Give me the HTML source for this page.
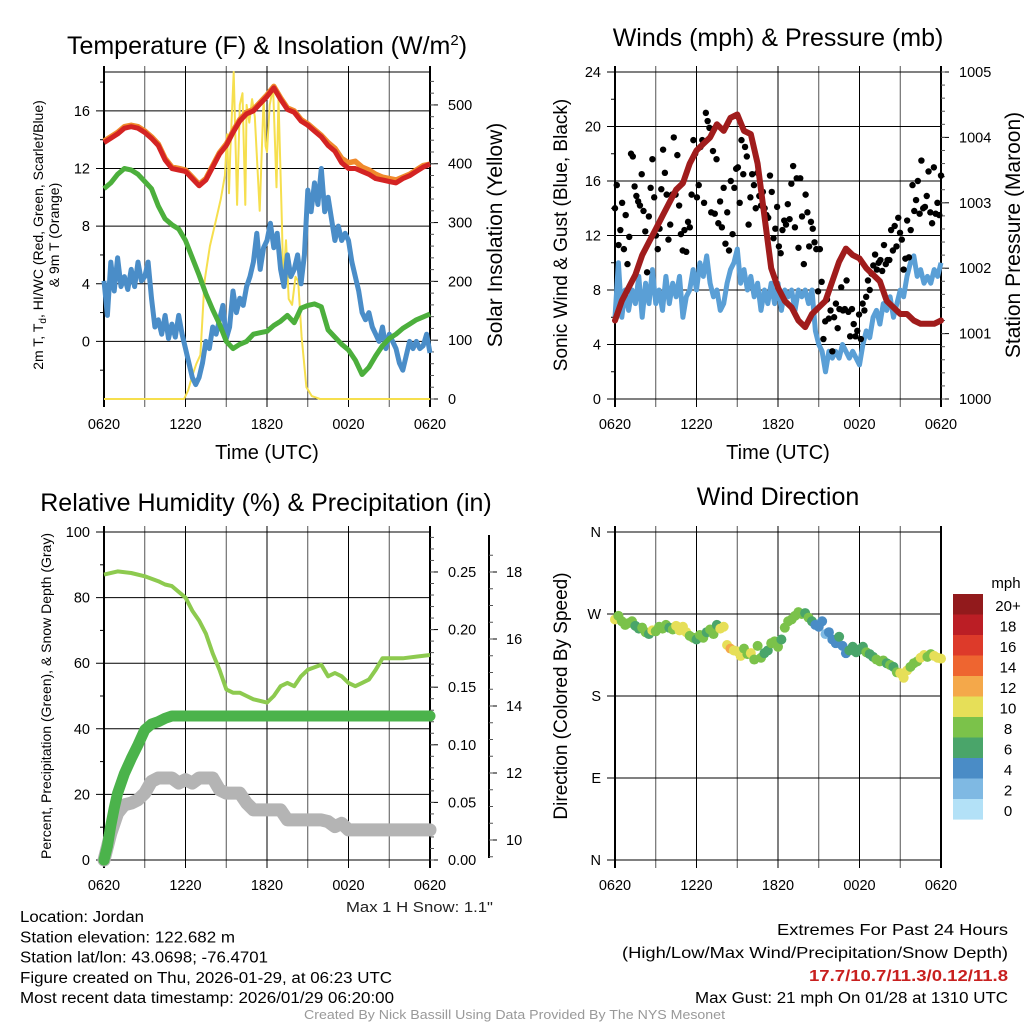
<!DOCTYPE html>
<html><head><meta charset="utf-8"><style>
body{margin:0;background:#fff}
svg{display:block;font-family:"Liberation Sans",sans-serif}
</style></head><body>
<svg id="s" width="1024" height="1024" viewBox="0 0 1024 1024" xmlns="http://www.w3.org/2000/svg">
<rect width="1024" height="1024" fill="#fff"/>
<g id="g"></g>
</svg>
<script>
// ---------- DATA ----------
const xTickLabels=["0620","1220","1820","0020","0620"];
// panel 1 (30-min)
const tempRed=[13.8,14.1,14.4,14.8,14.9,14.8,14.5,14.1,13.6,12.6,12.0,11.9,11.8,11.3,10.8,11.2,12.1,13.0,13.6,14.5,15.3,15.8,16.0,16.5,17.0,17.6,16.8,16.1,15.9,15.3,15.0,14.6,14.2,13.6,13.2,12.4,12.0,12.0,11.8,11.6,11.3,11.2,11.1,11.0,11.3,11.5,11.8,12.1,12.3];
const tempOrange=[13.9,14.2,14.5,14.9,15.0,14.9,14.6,14.2,13.7,12.7,12.1,12.0,11.9,11.4,10.9,11.3,12.2,13.1,13.7,14.6,15.4,15.9,16.1,16.6,17.1,17.7,16.9,16.2,16.0,15.4,15.1,14.7,14.3,13.8,13.4,12.7,12.4,12.5,12.1,11.9,11.6,11.4,11.3,11.2,11.4,11.6,11.9,12.2,12.3];
const dewGreen=[10.6,11.0,11.6,12.0,11.9,11.6,11.1,10.6,9.4,8.5,8.1,7.8,7.0,5.8,4.6,3.3,2.2,1.2,0.0,-0.5,-0.2,0.0,0.5,0.6,0.7,1.1,1.4,1.8,1.3,2.3,2.5,2.6,2.4,0.8,0.3,-0.2,-0.6,-1.3,-2.3,-1.8,-1.0,-0.3,0.2,0.5,0.9,1.2,1.5,1.7,1.9];
// 15-min
const windChillBlue=[4.2,1.8,5.5,3.5,5.8,3.8,4.5,3.6,5.0,3.8,5.5,4.2,4.5,5.5,3.0,1.0,1.5,0.5,1.8,0.2,1.2,0.3,1.8,0.5,-0.5,-1.5,-2.5,-3.0,-2.5,-1.5,0.0,-0.5,1.0,0.5,1.5,2.5,0.2,1.0,3.5,2.0,3.0,2.5,3.8,4.5,5.5,7.5,5.0,6.5,7.0,8.2,6.5,7.5,5.0,3.8,6.0,4.5,5.0,6.0,4.0,6.0,10.5,9.0,11.0,9.5,12.0,9.0,10.0,8.5,7.0,8.0,7.0,7.5,7.0,5.5,4.5,3.5,2.0,1.5,2.0,1.0,0.5,0.0,1.0,-0.5,0.5,0.0,-0.5,-1.5,-2.0,-1.0,0.0,-0.5,0.0,-0.5,-0.3,0.5,-0.8];
const solarT=[0,5.9,6.2,6.5,6.8,7.1,7.4,7.8,8.2,8.6,8.9,9.06,9.2,9.3,9.55,9.8,10.0,10.2,10.4,10.5,10.7,10.9,11.1,11.46,11.75,11.9,12.0,12.2,12.45,12.7,12.85,13.1,13.2,13.4,13.6,13.85,14.1,14.3,14.55,14.9,15.3,15.9,24];
const solarW=[0,0,15,40,60,75,200,260,300,340,380,450,350,420,556,330,500,520,330,500,470,510,480,320,510,430,420,500,530,360,510,300,200,270,170,160,208,200,106,20,5,0,0];
// panel 2
const pressure=[1001.2,1001.5,1001.7,1001.9,1002.2,1002.4,1002.6,1002.8,1003.0,1003.2,1003.3,1003.6,1003.8,1003.9,1004.0,1004.2,1004.1,1004.3,1004.35,1004.1,1004.05,1003.6,1002.8,1002.0,1001.7,1001.5,1001.4,1001.2,1001.1,1001.3,1001.4,1001.5,1001.8,1002.1,1002.3,1002.2,1002.15,1002.0,1001.9,1001.8,1001.5,1001.4,1001.3,1001.3,1001.2,1001.15,1001.15,1001.15,1001.2];
const sonicWind=[6,10,6,8,6.5,8,7,9,6,8.5,7,9.5,7,8,6.5,9,7,8.5,7.5,9,6,7.5,8,9.5,8,10,9,10.5,8.5,7.5,8,6.5,7,8.5,9.5,10,11,8.5,9.5,8,9,7.5,8.5,6.5,8,7,8.5,7,8.5,6.5,8,7.5,8,6.5,8,7.5,8,7,8,5,4,3.5,2,3.5,3,3.5,3,4,3.5,3,3.5,3,2.5,4,5,4.5,6,6.5,5.5,7,6.5,7.5,6,7,8,7.5,9,10,10.5,9,9.5,8.5,9,8.5,9.5,9,10];
const gusts=[14,15.7,11.3,12.4,14.4,11,13.5,9.9,11.9,18,17.8,15.6,14.9,14.5,14.2,16.5,13.8,12.3,9.3,13.4,15.5,17.6,14.8,12,11,12.5,15.4,18.3,16.6,15,11.7,12.8,15,19.2,15,17.9,14.2,12.1,10.9,12.4,10.8,13,12.6,15,19,18,14.8,15.7,18.5,19,14.4,21,20.4,19.9,13.7,18.2,13.6,17.6,12.9,14.5,12.6,15.5,11.4,13.7,10.9,16,12.1,15.5,16.9,17,14.4,19,16.5,18.5,17.8,12.8,14.8,16.5,15.7,14,16.6,14.9,14.2,15.2,14,13.5,13.3,16.4,15.2,11.8,12.5,14.1,11.2,10.7,12.4,13.1,12.8,14.3,13.2,15.8,17.1,12.6,16.2,11.1,16.2,13.4,9.9,15,13.7,11.2,13,12.5,11.5,11,7.9,11,8.6,4.4,5.7,7.3,5.9,6.5,3.5,6,7,5.2,6.6,8.2,6.5,6.6,8.7,6.4,4.6,6.6,5.5,4.6,5,6.2,4.4,7,6.5,7.5,8.7,8,9.2,9.8,10.6,9.5,10,10.2,9.4,11.3,9.9,10.2,10.2,12.4,10.9,12.7,11.2,13.3,12.2,11.7,9.5,10.3,13.1,10.4,12.4,15.7,13.8,14.6,16,13.6,17.5,14,14.1,14.9,16.7,13.7,12.9,17,13.6,14.4,13.5,16.4];
// panel 3
const rhT=[0,1,2,3,4,4.5,5,6,6.5,7,7.5,8,8.5,9,9.5,10,10.5,11,12,12.5,13,13.5,14,14.5,15,16,16.5,17,17.5,18,18.5,19,19.5,20,20.5,21,22,23,24];
const rh=[87,88,87.5,86.5,85,84,83.5,80,76,73,69,63,58,52,51,51,50,49,48,50,53,54,53,56,58,59.5,56,57,56,54,53,54,55,58,61.5,61.5,61.5,62,62.5];
const precipT=[0,0.25,0.5,0.75,1,1.5,2,2.5,3,3.5,4,4.5,5,24];
const precip=[0,0.012,0.03,0.045,0.058,0.075,0.088,0.1,0.113,0.118,0.12,0.123,0.125,0.125];
const snowT=[0,0.5,1,1.5,2,2.5,3,3.5,4,5,5.5,6,6.5,7,8,8.5,9,10,10.5,11,13,13.5,16,16.5,17,17.5,18,24];
const snow=[9.4,10.2,10.8,11.05,11.1,11.2,11.4,11.75,11.85,11.85,11.7,11.8,11.7,11.85,11.85,11.5,11.4,11.4,11.1,10.9,10.9,10.6,10.6,10.55,10.4,10.5,10.3,10.3];
// panel 4 (15-min)
const windDir=[264,268,262,258,260,262,257,254,255,250,248,252,251,256,254,258,255,253,257,252,256,250,246,244,242,247,244,250,253,248,258,254,256,236,232,230,229,224,232,226,227,220,235,222,227,230,238,240,234,242,255,262,264,268,272,270,271,266,262,258,256,262,248,250,242,238,245,235,227,230,234,228,231,234,228,226,223,220,218,219,216,214,212,206,205,200,208,212,216,218,222,225,223,226,224,222,221];
const windSpd=[9,7,7,8,8,7,6,6,7,8,6,10,8,7,8,8,6,7,10,9,10,9,7,8,6,7,8,6,8,7,6,9,10,10,11,10,9,10,8,8,10,8,7,8,6,6,7,8,8,6,7,8,8,7,8,8,5,7,6,3,3,4,2,3,4,4,5,4,4,5,6,6,6,6,7,6,6,7,7,8,6,8,6,7,10,10,9,8,8,8,10,9,8,8,10,10,10];
const cbLabels=["20+","18","16","14","12","10","8","6","4","2","0"];
const cbColors=["#921a1c","#bb1e25","#dd3a2a","#ee6530","#f4a84a","#e6df58","#7bc24a","#4aa56a","#4a8cc6","#7fb9e3","#b3e1f7"];

// ---------- DRAW ----------
const NS="http://www.w3.org/2000/svg";
const G=document.getElementById('g');
function el(tag,attrs,parent){const e=document.createElementNS(NS,tag);for(const k in attrs)e.setAttribute(k,attrs[k]);(parent||G).appendChild(e);return e;}
function txt(x,y,s,size,anchor,extra){const t=el('text',Object.assign({x:x,y:y,'font-size':size,'text-anchor':anchor||'middle',fill:'#000'},extra||{}));t.textContent=s;return t;}
function lin(d0,d1,r0,r1){return v=>r0+(v-d0)/(d1-d0)*(r1-r0);}
function path(xs,ys,fx,fy){let d='';for(let i=0;i<xs.length;i++){d+=(i?'L':'M')+fx(xs[i]).toFixed(1)+' '+fy(ys[i]).toFixed(1);}return d;}
function idx(n,step){const a=[];for(let i=0;i<n;i++)a.push(i*step);return a;}

function frame(p,name){
  const gg=el('g',{});
  
  
  const fx=lin(0,24,p.x0,p.x1);
  for(let h=0;h<=24;h+=3){const x=fx(h);el('line',{x1:x,x2:x,y1:p.y0-6,y2:p.y1+8,stroke:(h%6==3)?'#555':'#000','stroke-width':1},gg);}
  for(let i=0;i<xTickLabels.length;i++){const t=txt(fx(i*6),p.y1+30,xTickLabels[i],14.5);}
  return fx;
}
function leftAxis(p,fy,vals,labels,minor,name){
  for(let i=0;i<vals.length;i++){const y=fy(vals[i]);el('line',{x1:p.x0-8,x2:p.x1,y1:y,y2:y,stroke:'#000','stroke-width':1});const t=txt(p.x0-14,y+5,labels[i],14.5,'end');}
  for(const v of minor){const y=fy(v);el('line',{x1:p.x0-4,x2:p.x0,y1:y,y2:y,stroke:'#000','stroke-width':1});}
  el('line',{x1:p.x0,x2:p.x0,y1:p.y0-6,y2:p.y1+8,stroke:'#000','stroke-width':2});
  el('line',{x1:p.x1,x2:p.x1,y1:p.y0-6,y2:p.y1+8,stroke:'#000','stroke-width':2});
}
function rightAxis(ax,fy,vals,labels,minor,name,labx){
  for(let i=0;i<vals.length;i++){const y=fy(vals[i]);el('line',{x1:ax,x2:ax+8,y1:y,y2:y,stroke:'#000','stroke-width':1});const t=txt(labx,y+5,labels[i],14.5,'start');}
  for(const v of minor){const y=fy(v);el('line',{x1:ax,x2:ax+4,y1:y,y2:y,stroke:'#555','stroke-width':1});}
}
function range(a,b,s){const r=[];for(let v=a;v<=b+1e-9;v+=s)r.push(+v.toFixed(4));return r;}
function title(x,y,s,name,size){const t=txt(x,y,s,size||25);return t;}
function vlabel(x,y,s,size,name){const t=txt(x,y,s,size,'middle',{transform:'rotate(-90 '+x+' '+y+')'});return t;}

// Panel 1
const P1={x0:104,x1:430,y0:72,y1:399};
const fx1=frame(P1,'temp-panel');
const fy1=lin(-4,18.7,P1.y1,P1.y0);
const fyS=lin(0,556,P1.y1,P1.y0);
leftAxis(P1,fy1,[0,4,8,12,16],["0","4","8","12","16"],[-2,2,6,10,14,18],'temp');
el('line',{x1:P1.x0,x2:P1.x1,y1:P1.y0,y2:P1.y0,stroke:'#000'});
el('line',{x1:P1.x0,x2:P1.x1,y1:P1.y1,y2:P1.y1,stroke:'#000'});
rightAxis(P1.x1,fyS,[0,100,200,300,400,500],["0","100","200","300","400","500"],range(0,540,20),'solar-axis',P1.x1+18);
let e;
e=el('path',{d:path(solarT,solarW,fx1,fyS),fill:'none',stroke:'#f6df4e','stroke-width':2,'stroke-linejoin':'round'});

e=el('path',{d:path(idx(97,0.25),windChillBlue,fx1,fy1),fill:'none',stroke:'#4a8dc8','stroke-width':5,'stroke-linejoin':'round'});

e=el('path',{d:path(idx(49,0.5),dewGreen,fx1,fy1),fill:'none',stroke:'#4caf3c','stroke-width':5,'stroke-linejoin':'round'});

e=el('path',{d:path(idx(49,0.5),tempOrange,fx1,fy1),fill:'none',stroke:'#f08a2c','stroke-width':5.5,'stroke-linejoin':'round'});

e=el('path',{d:path(idx(49,0.5),tempRed,fx1,fy1),fill:'none',stroke:'#d42323','stroke-width':5,'stroke-linejoin':'round'});

const t1=el('text',{x:267,y:54,'font-size':25,'text-anchor':'middle'});t1.innerHTML='Temperature (F) &amp; Insolation (W/m<tspan dy="-9" font-size="15">2</tspan><tspan dy="9">)</tspan>';

title(267,459,'Time (UTC)','temp-x-axis-title',20);
const yl=el('text',{'font-size':14,'text-anchor':'middle',transform:'rotate(-90 43 235)',x:43,y:235});
yl.innerHTML='2m T, T<tspan font-size="10" dy="3">d</tspan><tspan dy="-3">, HI/WC (Red, Green, Scarlet/Blue)</tspan>';

vlabel(59,235,'& 9m T (Orange)',14,'temp-y-axis-title-line2');
vlabel(502,235,'Solar Insolation (Yellow)',21,'solar-axis-title');

// Panel 2
const P2={x0:615,x1:941,y0:72,y1:399};
const fx2=frame(P2,'wind-panel');
const fy2=lin(0,24,P2.y1,P2.y0);
const fyP=lin(1000,1005,P2.y1,P2.y0);
leftAxis(P2,fy2,[0,4,8,12,16,20,24],["0","4","8","12","16","20","24"],[2,6,10,14,18,22],'wind');
rightAxis(P2.x1,fyP,[1000,1001,1002,1003,1004,1005],["1000","1001","1002","1003","1004","1005"],range(1000,1005,0.2),'pressure-axis',P2.x1+18);
e=el('path',{d:path(idx(97,0.25),sonicWind,fx2,fy2),fill:'none',stroke:'#5a9fd6','stroke-width':5,'stroke-linejoin':'round'});

for(let i=0;i<gusts.length;i++){
  const c=el('circle',{cx:fx2(i*24/(gusts.length-1)),cy:fy2(gusts[i]),r:3.2,fill:'#000'});
  
  
}
e=el('path',{d:path(idx(49,0.5),pressure,fx2,fyP),fill:'none',stroke:'#a01c1c','stroke-width':6,'stroke-linejoin':'round','stroke-linecap':'round'});

title(778,46,'Winds (mph) & Pressure (mb)','wind-panel-title');
title(778,459,'Time (UTC)','wind-x-axis-title',20);
vlabel(567,235,'Sonic Wind & Gust (Blue, Black)',19,'wind-y-axis-title');
vlabel(1020,235,'Station Pressure (Maroon)',21,'pressure-axis-title');

// Panel 3
const P3={x0:104,x1:430,y0:532,y1:860};
const fx3=frame(P3,'rh-panel');
const fy3=lin(0,100,P3.y1,P3.y0);
const fyPr=lin(0,0.2847,P3.y1,P3.y0);
const fySn=v=>840-(v-10)*33.5;
leftAxis(P3,fy3,[0,20,40,60,80,100],["0","20","40","60","80","100"],[10,30,50,70,90],'rh');
el('line',{x1:P3.x0,x2:P3.x1,y1:P3.y1,y2:P3.y1,stroke:'#000'});
rightAxis(P3.x1,fyPr,[0,0.05,0.1,0.15,0.2,0.25],["0.00","0.05","0.10","0.15","0.20","0.25"],range(0,0.28,0.01),'precip-axis',P3.x1+18);
el('line',{x1:489,x2:489,y1:535,y2:858,stroke:'#000','stroke-width':2});
rightAxis(489,fySn,[10,12,14,16,18],["10","12","14","16","18"],range(9.5,18.5,0.5),'snow-axis',506);
e=el('path',{d:path(snowT,snow,fx3,fySn),fill:'none',stroke:'#b4b4b4','stroke-width':13,'stroke-linejoin':'round','stroke-linecap':'round'});

e=el('path',{d:path(precipT,precip,fx3,fyPr),fill:'none',stroke:'#4bb34b','stroke-width':11,'stroke-linejoin':'round','stroke-linecap':'round'});

e=el('path',{d:path(rhT,rh,fx3,fy3),fill:'none',stroke:'#8dca4f','stroke-width':4,'stroke-linejoin':'round'});

title(266,511,'Relative Humidity (%) & Precipitation (in)','rh-panel-title');
vlabel(51,696,'Percent, Precipitation (Green), & Snow Depth (Gray)',14,'rh-y-axis-title');
e=txt(346,912,'Max 1 H Snow: 1.1"',15,'start',{fill:'#222',textLength:147,lengthAdjust:'spacingAndGlyphs'});

// Panel 4
const P4={x0:615,x1:941,y0:532,y1:860};
const fx4=frame(P4,'direction-panel');
const fy4=lin(0,360,P4.y1,P4.y0);
leftAxis(P4,fy4,[0,90,180,270,360],["N","E","S","W","N"],[],'direction');
el('line',{x1:P4.x0,x2:P4.x1,y1:P4.y1,y2:P4.y1,stroke:'#000'});
el('line',{x1:P4.x0,x2:P4.x1,y1:P4.y0,y2:P4.y0,stroke:'#000'});
for(let i=0;i<windDir.length;i++){
  const bin=Math.min(10,Math.max(0,Math.round(windSpd[i]/2)));
  const c=el('circle',{cx:fx4(i*0.25),cy:fy4(windDir[i]),r:5,fill:cbColors[10-bin]});
  
  
}
title(778,505,'Wind Direction','direction-panel-title');
vlabel(567,696,'Direction (Colored By Speed)',19,'direction-y-axis-title');
const cb=el('g',{});

for(let i=0;i<cbColors.length;i++){
  el('rect',{x:953,y:594+i*20.5,width:30,height:20.6,fill:cbColors[i]},cb);
  const t=txt(1008,611+i*20.5,cbLabels[i],15,'middle');
  
}
e=txt(1006,588,'mph',15,'middle');

// Footer text
const leftLines=["Location: Jordan","Station elevation: 122.682 m","Station lat/lon: 43.0698; -76.4701","Figure created on Thu, 2026-01-29, at 06:23 UTC","Most recent data timestamp: 2026/01/29 06:20:00"];
const leftEnds=[144,235,268,392,394];
for(let i=0;i<leftLines.length;i++){e=txt(20,922+i*20.3,leftLines[i],15.5,'start',{textLength:leftEnds[i]-20,lengthAdjust:'spacingAndGlyphs'});}
e=txt(777,935,'Extremes For Past 24 Hours',16,'start',{textLength:231,lengthAdjust:'spacingAndGlyphs'});
e=txt(622,958,'(High/Low/Max Wind/Precipitation/Snow Depth)',16,'start',{textLength:386,lengthAdjust:'spacingAndGlyphs'});
e=txt(809,981,'17.7/10.7/11.3/0.12/11.8',16,'start',{fill:'#c8201f','font-weight':'bold',textLength:199,lengthAdjust:'spacingAndGlyphs'});
e=txt(695,1003,'Max Gust: 21 mph On 01/28 at 1310 UTC',15.5,'start',{textLength:313,lengthAdjust:'spacingAndGlyphs'});
e=txt(304,1019,'Created By Nick Bassill Using Data Provided By The NYS Mesonet',13,'start',{fill:'#999',textLength:421,lengthAdjust:'spacingAndGlyphs'});
</script>
</body></html>
